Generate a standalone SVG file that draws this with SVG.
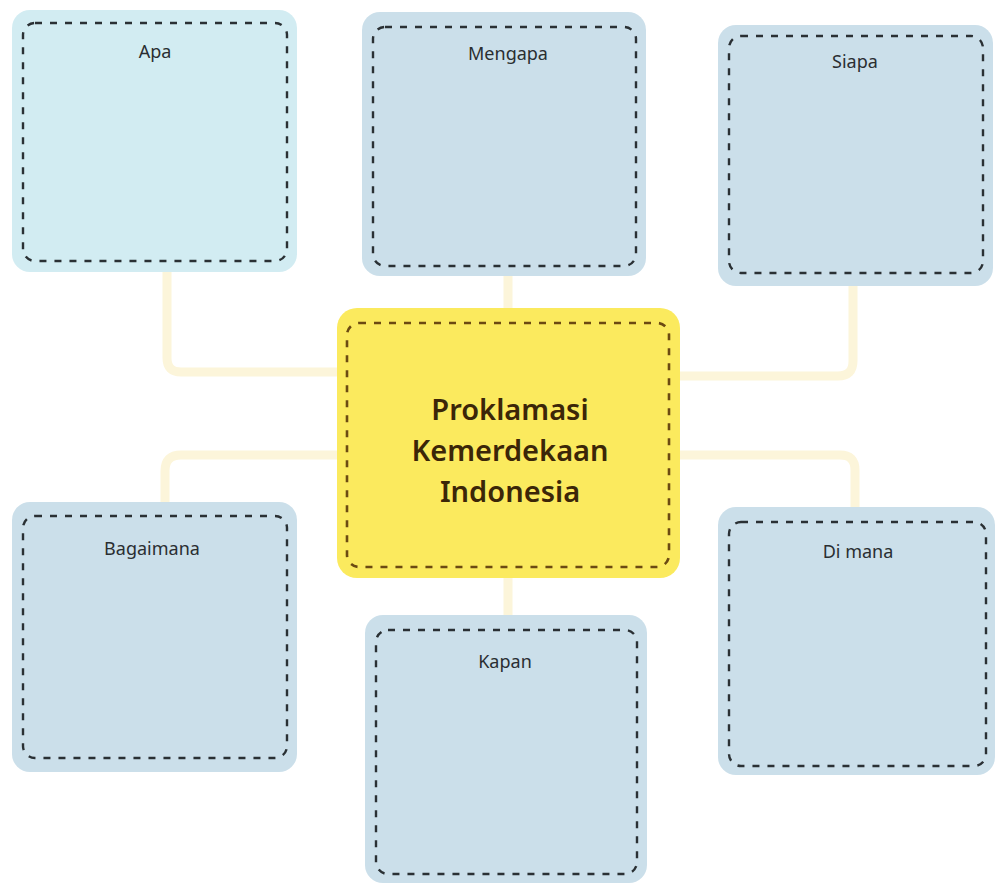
<svg xmlns="http://www.w3.org/2000/svg" width="1000" height="887" viewBox="0 0 1000 887">
<style>
.bg{fill:#ffffff}
.box{fill:#cbdfea}
.dash{fill:none;stroke:#2a3034;stroke-width:2.4;stroke-dasharray:7 8}
.cdash{fill:none;stroke:#6b4a12;stroke-width:2.6;stroke-dasharray:7 8}
.lbl{font-family:"Noto Sans","Liberation Sans",sans-serif;font-size:18px;fill:#2a2e31;text-anchor:middle}
.ctr{font-family:"Noto Sans","Liberation Sans",sans-serif;font-size:29px;font-weight:600;fill:#3b2608;text-anchor:middle}
.conn{fill:none;stroke:#fcf5da;stroke-width:9;stroke-linecap:round;stroke-linejoin:round}
</style>
<rect class="bg" x="0" y="0" width="1000" height="887"/>
<g id="connectors">
<path class="conn" d="M167 270 V358 Q167 372 181 372 H340"/>
<path class="conn" d="M340 455 H181 Q165 455 165 471 V502"/>
<path class="conn" d="M677 376 H838 Q853 376 853 361 V283"/>
<path class="conn" d="M677 455 H840 Q855 455 855 470 V507"/>
<path class="conn" d="M508 276 V310"/>
<path class="conn" d="M508 576 V617"/>
</g>
<g id="node-apa">
<rect class="box" x="12" y="10" width="285" height="262" rx="18" style="fill:#d2ecf2"/>
<rect class="dash" x="23" y="23" width="264" height="238" rx="12"/>
<text class="lbl" x="155" y="58">Apa</text>
</g>
<g id="node-mengapa">
<rect class="box" x="362" y="12" width="284" height="264" rx="18"/>
<rect class="dash" x="373" y="27" width="263" height="239" rx="12"/>
<text class="lbl" x="508" y="60">Mengapa</text>
</g>
<g id="node-siapa">
<rect class="box" x="718" y="25" width="275" height="261" rx="18"/>
<rect class="dash" x="729" y="36" width="254" height="237" rx="12"/>
<text class="lbl" x="855" y="68">Siapa</text>
</g>
<g id="node-center">
<rect x="337" y="308" width="343" height="270" rx="20" fill="#fbea5e"/>
<rect class="cdash" x="347" y="323" width="322" height="244" rx="12"/>
<text class="ctr" x="510" y="420">Proklamasi</text>
<text class="ctr" x="510" y="461">Kemerdekaan</text>
<text class="ctr" x="510" y="502">Indonesia</text>
</g>
<g id="node-bagaimana">
<rect class="box" x="12" y="502" width="285" height="270" rx="18"/>
<rect class="dash" x="23" y="516" width="264" height="242" rx="12"/>
<text class="lbl" x="152" y="555">Bagaimana</text>
</g>
<g id="node-kapan">
<rect class="box" x="365" y="615" width="282" height="268" rx="18"/>
<rect class="dash" x="376" y="630" width="261" height="244" rx="12"/>
<text class="lbl" x="505" y="668">Kapan</text>
</g>
<g id="node-dimana">
<rect class="box" x="718" y="507" width="277" height="268" rx="18"/>
<rect class="dash" x="729" y="522" width="257" height="244" rx="12"/>
<text class="lbl" x="858" y="558">Di mana</text>
</g>
</svg>
